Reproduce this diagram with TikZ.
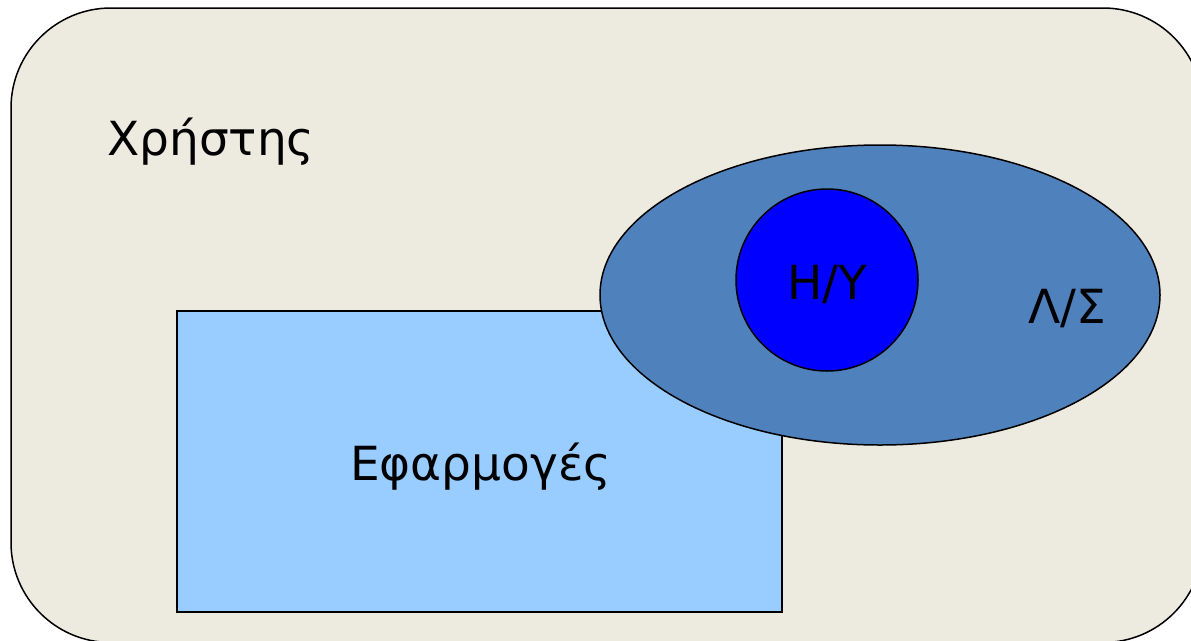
\documentclass[tikz,border=0pt]{standalone}
\usepackage{fontspec}
\usetikzlibrary{shapes.geometric}
\setmainfont{DejaVu Sans}
\definecolor{bgc}{RGB}{237,234,224}
\definecolor{appc}{RGB}{153,204,255}
\definecolor{netc}{RGB}{79,129,189}
\definecolor{pcc}{RGB}{0,0,255}
\tikzset{
  shapeline/.style={draw=black, line width=1.5pt},
  lbl/.style={inner sep=0pt, anchor=base west, font=\fontsize{47}{56}\selectfont, text=black}
}
\begin{document}
\begin{tikzpicture}[x=1pt,y=-1pt]
\useasboundingbox (0,0) rectangle (1191,640);
\begin{scope}
\clip (0,0) rectangle (1191,640);
\draw[shapeline, fill=bgc, rounded corners=100pt] (11,8) rectangle (1203,642.5);
\end{scope}
\node[shapeline, fill=appc, rectangle, minimum width=605pt, minimum height=301pt, inner sep=0pt] (apps) at (479.5,461.5) {};
\node[shapeline, fill=netc, ellipse, minimum width=560pt, minimum height=300pt, inner sep=0pt] (net) at (880,295) {};
\node[shapeline, fill=pcc, circle, minimum size=182pt, inner sep=0pt] (pc) at (827,280) {};
\node[lbl] (user) at (107,155) {Χρήστης};
\node[lbl] (appl) at (350,480) {Εφαρμογές};
\node[lbl] (pcl) at (787,299) {Η/Υ};
\node[lbl] (netl) at (1028,323) {Λ/Σ};
\end{tikzpicture}
\end{document}
